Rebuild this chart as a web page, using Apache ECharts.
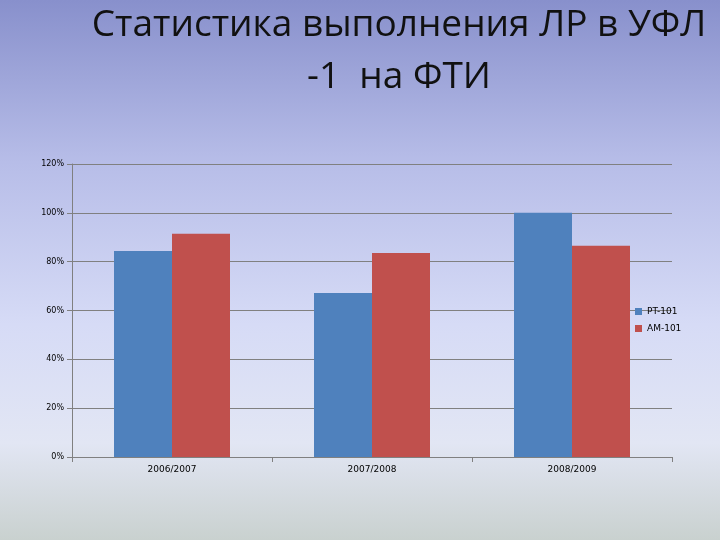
<!DOCTYPE html>
<html>
<head>
<meta charset="utf-8">
<script src="https://cdn.jsdelivr.net/npm/echarts@6/dist/echarts.min.js"></script>
<style>
html, body { margin: 0; padding: 0; }
#main {
    width: 720px; height: 540px;
    background: linear-gradient(to bottom, #8890cc 0%, #b7bde8 30%, #d6dbf6 60%, #e2e6f4 82%, #c9d1cf 100%);
}
</style>
</head>
<body>
<div id="main"></div>
<script>
var categories = ['2006/2007', '2007/2008', '2008/2009'];
var pt101 = [0.844, 0.672, 1.0];
var am101 = [0.914, 0.836, 0.865];
var yTicks = [0, 0.2, 0.4, 0.6, 0.8, 1.0, 1.2];

var myChart = echarts.init(document.getElementById('main'));

var option = {
    title: {
        text: 'Статистика выполнения ЛР в УФЛ\n-1  на ФТИ',
        left: 394,
        textAlign: 'center',
        top: -6,
        textStyle: {
            fontFamily: 'Open Sans',
            fontWeight: 'normal',
            fontSize: 37,
            lineHeight: 52,
            color: '#111'
        }
    },
    legend: {
        data: ['PT-101', 'AM-101'],
        orient: 'vertical',
        left: 630,
        top: 302,
        icon: 'rect',
        itemWidth: 7,
        itemHeight: 7,
        itemGap: 8,
        textStyle: { fontSize: 9, color: '#000', fontFamily: 'DejaVu Sans' }
    },
    grid: { left: 72, right: 48, top: 164, bottom: 83 },
    xAxis: {
        type: 'category',
        data: categories,
        axisLine: { lineStyle: { color: '#808080' } },
        axisTick: { show: true, lineStyle: { color: '#808080' } },
        axisLabel: { fontSize: 9, color: '#000', fontFamily: 'DejaVu Sans' }
    },
    yAxis: {
        type: 'value',
        min: 0,
        max: 1.2,
        interval: 0.2,
        axisLine: { show: true, lineStyle: { color: '#808080' } },
        axisTick: { show: true, lineStyle: { color: '#808080' } },
        splitLine: { lineStyle: { color: '#808080' } },
        axisLabel: {
            fontSize: 8, color: '#000', fontFamily: 'DejaVu Sans',
            formatter: function (v) { return Math.round(v * 100) + '%'; }
        }
    },
    series: [
        {
            name: 'PT-101',
            type: 'bar',
            data: pt101,
            itemStyle: { color: '#4f81bd' },
            barGap: '0%',
            barCategoryGap: '42%'
        },
        {
            name: 'AM-101',
            type: 'bar',
            data: am101,
            itemStyle: { color: '#c0504d' }
        }
    ]
};

myChart.setOption(option);
</script>
</body>
</html>
